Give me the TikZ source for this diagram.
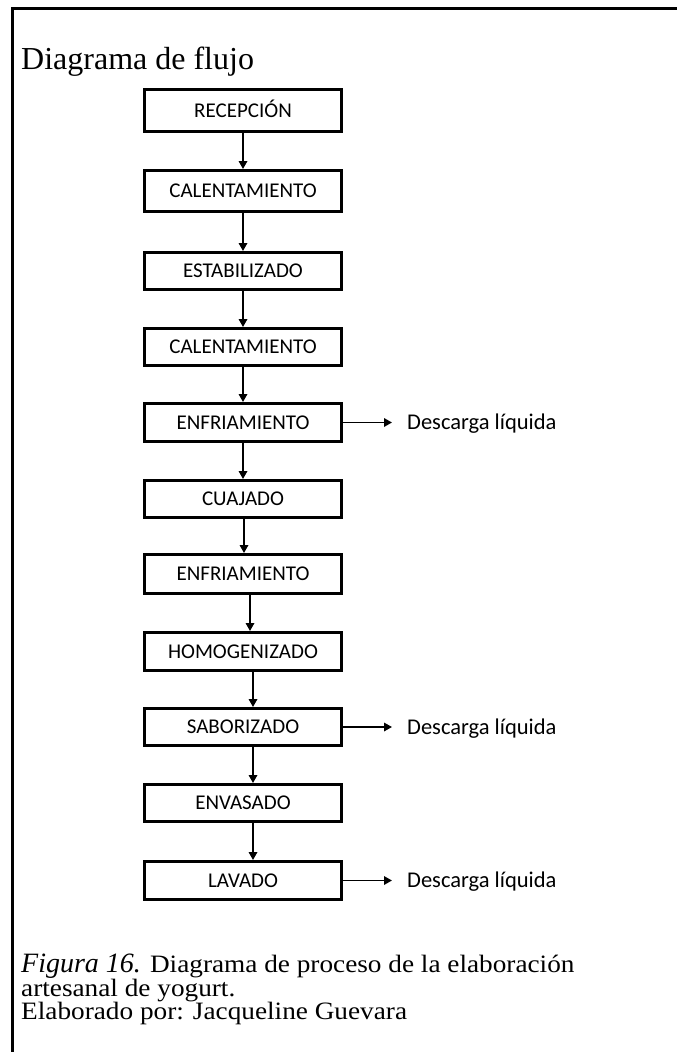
\documentclass[tikz,border=0pt]{standalone}
\usepackage{fontspec}
\setmainfont{Liberation Serif}
\newfontfamily\boxfont{Carlito}
\newfontfamily\capfont[FakeStretch=1.09]{Liberation Serif}
\usetikzlibrary{arrows.meta}

\tikzset{
  stepbox/.style={draw, line width=3.4pt, minimum width=196.6pt, inner sep=0pt,
    text height=13.5pt, text depth=0pt,
    font=\boxfont\fontsize{21}{21}\selectfont},
  flow/.style={line width=1.7pt, -{Triangle[length=8pt,width=8.5pt]}},
  outlet/.style={anchor=base west, inner sep=0pt, font=\boxfont\fontsize{22.5}{22.5}\selectfont},
  captext/.style={anchor=base west, inner sep=0pt, text height=17pt, text depth=5pt,
    font=\capfont\fontsize{25}{25}\selectfont}
}

\begin{document}
\begin{tikzpicture}[x=1pt,y=-1pt]
  \useasboundingbox (0,0) rectangle (677,1052);
  \fill[white] (0,0) rectangle (677,1052);

  % frame (left and top edges only)
  \draw[line width=3pt] (12.5,1052) -- (12.5,8) -- (677,8);

  % title
  \node[anchor=base west, inner sep=0pt, font=\fontsize{32}{32}\selectfont] (title) at (21,69) {Diagrama de flujo};

  % process steps
  \node[stepbox, minimum height=41.6pt] (b1)  at (243,110.5) {RECEPCIÓN};
  \node[stepbox, minimum height=40.6pt] (b2)  at (243,191)   {CALENTAMIENTO};
  \node[stepbox, minimum height=36.6pt] (b3)  at (243,271)   {ESTABILIZADO};
  \node[stepbox, minimum height=36.6pt] (b4)  at (243,347)   {CALENTAMIENTO};
  \node[stepbox, minimum height=37.6pt] (b5)  at (243,422.5) {ENFRIAMIENTO};
  \node[stepbox, minimum height=36.6pt] (b6)  at (243,499)   {CUAJADO};
  \node[stepbox, minimum height=38.6pt] (b7)  at (243,574)   {ENFRIAMIENTO};
  \node[stepbox, minimum height=37.6pt] (b8)  at (243,651.5) {HOMOGENIZADO};
  \node[stepbox, minimum height=36.6pt] (b9)  at (243,727)   {SABORIZADO};
  \node[stepbox, minimum height=36.6pt] (b10) at (243,803)   {ENVASADO};
  \node[stepbox, minimum height=37.6pt] (b11) at (243,880.5) {LAVADO};

  % vertical flow arrows
  \draw[flow] (b1.south) -- (b2.north);
  \draw[flow] (b2.south) -- (b3.north);
  \draw[flow] (b3.south) -- (b4.north);
  \draw[flow] (b4.south) -- (b5.north);
  \draw[flow] (b5.south) -- (b6.north);
  \draw[flow] ([xshift=1pt]b6.south) -- ([xshift=1pt]b7.north);
  \draw[flow] ([xshift=7pt]b7.south) -- ([xshift=7pt]b8.north);
  \draw[flow] ([xshift=10pt]b8.south) -- ([xshift=10pt]b9.north);
  \draw[flow] ([xshift=10pt]b9.south) -- ([xshift=10pt]b10.north);
  \draw[flow] ([xshift=10pt]b10.south) -- ([xshift=10pt]b11.north);

  % liquid discharges
  \node[outlet] (d5)  at (407,429.7) {Descarga líquida};
  \node[outlet] (d9)  at (407,734.2) {Descarga líquida};
  \node[outlet] (d11) at (407,887.7) {Descarga líquida};
  \draw[flow] (b5.east)  -- ([xshift=-15pt]d5.west |- b5.east);
  \draw[flow] (b9.east)  -- ([xshift=-15pt]d9.west |- b9.east);
  \draw[flow] (b11.east) -- ([xshift=-15pt]d11.west |- b11.east);

  % caption
  \node[captext] (cap1) at (21,972)
    {{\rmfamily\itshape\fontsize{28}{25}\selectfont Figura 16.} Diagrama de proceso de la elaboración};
  \node[captext] (cap2) at (21,996) {artesanal de yogurt.};
  \node[captext] (cap3) at (21,1019) {Elaborado por: Jacqueline Guevara};
\end{tikzpicture}
\end{document}
